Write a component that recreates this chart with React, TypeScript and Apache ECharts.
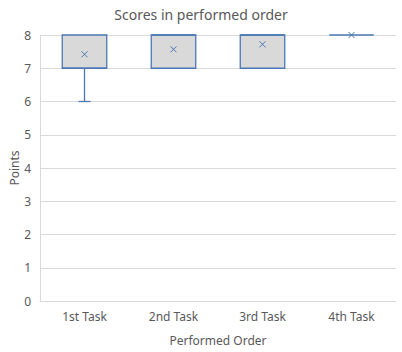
import React, { useEffect, useRef } from "react";
import * as echarts from "echarts";

const categories = ["1st Task", "2nd Task", "3rd Task", "4th Task"];
const minVals = [6, 7, 7, 8];
const q1Vals = [7, 7, 7, 8];
const medianVals = [7, 8, 8, 8];
const q3Vals = [8, 8, 8, 8];
const maxVals = [8, 8, 8, 8];
const meanVals = [7.42, 7.57, 7.72, 8];
const yTicks = [0, 8, 1]; // min, max, interval

const BLUE = "#4A78B4";
const FILL = "#D9D9D9";
const TEXT = "#595959";
const GRID = "#D9D9D9";
const FONT = "'Noto Sans', sans-serif";

export default function App() {
  const ref = useRef<HTMLDivElement>(null);
  useEffect(() => {
    if (!ref.current) return;
    const chart = echarts.init(ref.current, undefined, { renderer: "svg" });
    const data = categories.map((_, i) => [
      i,
      minVals[i],
      q1Vals[i],
      medianVals[i],
      q3Vals[i],
      maxVals[i],
      meanVals[i],
    ]);
    chart.setOption({
      animation: false,
      title: {
        text: "Scores in performed order",
        left: "center",
        top: 2,
        textStyle: { color: TEXT, fontSize: 14, fontWeight: "normal", fontFamily: FONT },
      },
      grid: { left: 40, right: 6, top: 35, bottom: 51, containLabel: false, outerBoundsMode: "none" },
      xAxis: {
        type: "category",
        data: categories,
        name: "Performed Order",
        nameLocation: "middle",
        nameGap: 33,
        nameMoveOverlap: false,
        nameTextStyle: { color: TEXT, fontSize: 12, fontFamily: FONT },
        axisLine: { show: true, lineStyle: { color: GRID } },
        axisTick: { show: false },
        axisLabel: { color: TEXT, fontSize: 12, fontFamily: FONT, margin: 9 },
      },
      yAxis: {
        type: "value",
        min: yTicks[0],
        max: yTicks[1],
        interval: yTicks[2],
        name: "Points",
        nameLocation: "middle",
        nameGap: 20,
        nameMoveOverlap: false,
        nameTextStyle: { color: TEXT, fontSize: 12, fontFamily: FONT },
        axisLine: { show: true, lineStyle: { color: GRID } },
        axisTick: { show: false },
        axisLabel: { color: TEXT, fontSize: 12, fontFamily: FONT, margin: 9 },
        splitLine: { show: true, lineStyle: { color: GRID } },
      },
      series: [
        {
          type: "custom",
          data,
          renderItem: (params: any, api: any) => {
            const idx = api.value(0);
            const mn = api.coord([idx, api.value(1)]);
            const q1 = api.coord([idx, api.value(2)]);
            const md = api.coord([idx, api.value(3)]);
            const q3 = api.coord([idx, api.value(4)]);
            const mx = api.coord([idx, api.value(5)]);
            const mean = api.coord([idx, api.value(6)]);
            const band = api.size([1, 0])[0];
            const w = band * 0.5;
            const x = q1[0];
            const cap = 6;
            const ls = { stroke: BLUE, lineWidth: 1.3, fill: null };
            const children: any[] = [];
            if (mn[1] !== q1[1]) {
              children.push({ type: "line", shape: { x1: x, y1: q1[1], x2: x, y2: mn[1] }, style: ls });
              children.push({ type: "line", shape: { x1: x - cap, y1: mn[1], x2: x + cap, y2: mn[1] }, style: ls });
            }
            if (mx[1] !== q3[1]) {
              children.push({ type: "line", shape: { x1: x, y1: q3[1], x2: x, y2: mx[1] }, style: ls });
              children.push({ type: "line", shape: { x1: x - cap, y1: mx[1], x2: x + cap, y2: mx[1] }, style: ls });
            }
            if (q1[1] !== q3[1]) {
              children.push({
                type: "rect",
                shape: { x: x - w / 2, y: q3[1], width: w, height: q1[1] - q3[1] },
                style: { fill: FILL, stroke: BLUE, lineWidth: 1.3 },
              });
            }
            children.push({ type: "line", shape: { x1: x - w / 2, y1: md[1], x2: x + w / 2, y2: md[1] }, style: ls });
            const m = 3;
            children.push({ type: "line", shape: { x1: mean[0] - m, y1: mean[1] - m, x2: mean[0] + m, y2: mean[1] + m }, style: { stroke: BLUE, lineWidth: 1 } });
            children.push({ type: "line", shape: { x1: mean[0] - m, y1: mean[1] + m, x2: mean[0] + m, y2: mean[1] - m }, style: { stroke: BLUE, lineWidth: 1 } });
            return { type: "group", children };
          },
        },
      ],
    });
    return () => chart.dispose();
  }, []);
  return <div ref={ref} style={{ width: 402, height: 352, position: "absolute", left: 0, top: 0 }} />;
}
